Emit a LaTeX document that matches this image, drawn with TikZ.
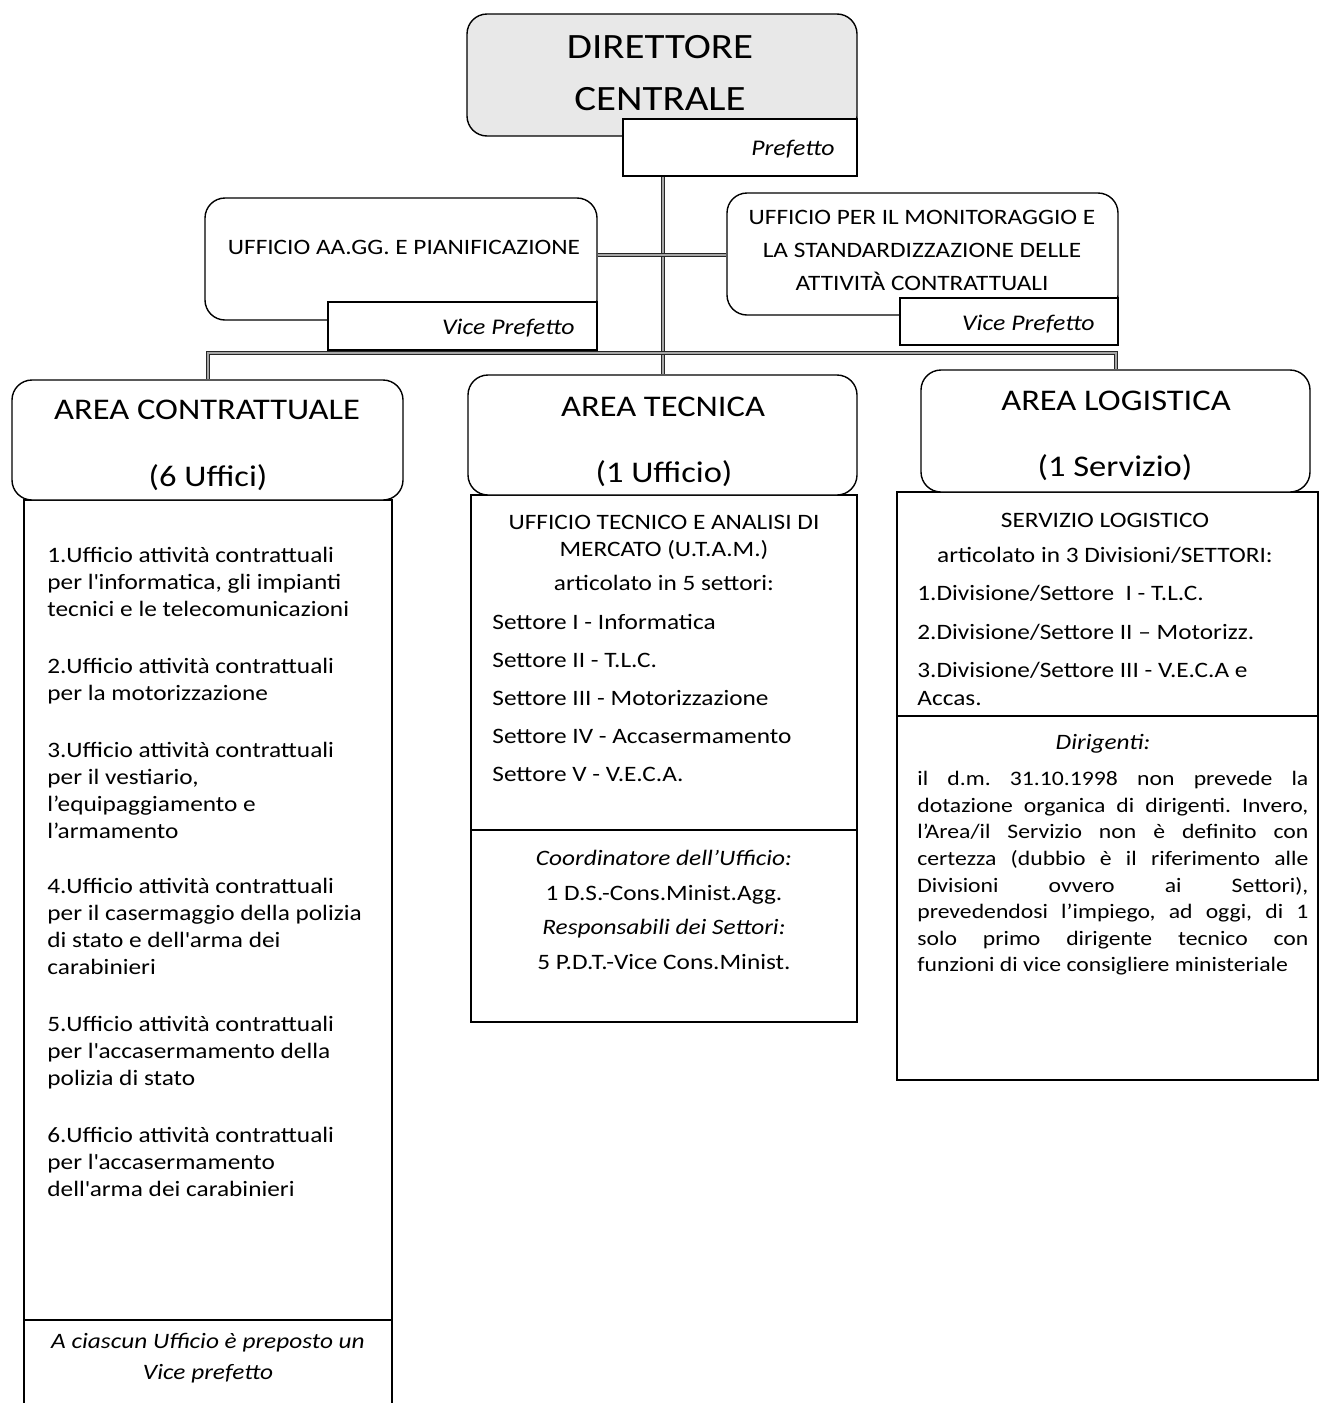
\documentclass[tikz,border=0pt]{standalone}
\usepackage{fontspec}
\setmainfont{Carlito}[FakeStretch=1.15]
\usepackage{tikz}
\usetikzlibrary{fit}
\frenchspacing
\newcommand{\jline}[1]{\makebox[195.5pt][s]{#1}}

\begin{document}
\begin{tikzpicture}[x=0.5pt, y=-0.5pt,
    box/.style={draw, line width=0.7pt, inner sep=0pt},
    rbox/.style={box, rounded corners=10pt},
    bus/.style={draw=black!85, line width=0.5pt, double=black!35, double distance=1pt},
    big/.style={inner sep=0pt, font=\fontsize{17.8}{22}\selectfont},
    head/.style={inner sep=0pt, font=\fontsize{15}{18}\selectfont},
    txt/.style={inner sep=0pt, font=\fontsize{11}{13.5}\selectfont},
    ital/.style={inner sep=0pt, font=\fontsize{11.2}{14}\selectfont\itshape}]
    \useasboundingbox (0,0) rectangle (1320,1403);

    % boxes
    \node[rbox, fill=black!9, fit={(467,14) (857,136)}] (dir) {};
    \node[box, fill=white, fit={(623,119) (857,176)}] (pref) {};
    \node[rbox, fit={(205,198) (597,320)}] (aagg) {};
    \node[box, fill=white, fit={(328,302) (597,350)}] (aaggvp) {};
    \node[rbox, fit={(727,193) (1118,315)}] (mon) {};
    \node[box, fill=white, fit={(900,298) (1118,345)}] (monvp) {};

    \node[box, fit={(24,500) (392,1320)}] (uffici) {};
    \node[box, fit={(24,1320) (392,1420)}] (nota) {};
    \node[rbox, fill=white, fit={(12,380) (403,500)}] (contr) {};
    \node[box, fit={(471,495) (857,830)}] (utam) {};
    \node[box, fit={(471,830) (857,1022)}] (coord) {};
    \node[rbox, fill=white, fit={(468,375) (857,495)}] (tec) {};
    \node[box, fit={(897,492) (1318,716)}] (serv) {};
    \node[box, fit={(897,716) (1318,1080)}] (dirig) {};
    \node[rbox, fill=white, fit={(921,370) (1310,492)}] (logi) {};

    % connectors
    \coordinate (bus) at (662,353);
    \draw[bus] (pref.south -| tec.north) -- (tec.north);
    \draw[bus] ([yshift=2pt]aagg.east) -- ([yshift=2pt]aagg.east -| mon.west);
    \draw[bus] (contr.north) |- (bus) -| (logi.north);

    % texts
    \node[big, anchor=base] (dirt1) at (660,58) {DIRETTORE};
    \node[big, anchor=base] (dirt2) at (660,110) {CENTRALE};
    \node[ital, anchor=base east] (preft) at (835,155) {Prefetto};
    \node[txt, anchor=base] (aaggt) at (404,254) {UFFICIO AA.GG. E PIANIFICAZIONE};
    \node[ital, anchor=base east] (aaggvpt) at (575,334) {Vice Prefetto};
    \node[txt, anchor=north, align=center, font=\fontsize{11}{16.5}\selectfont] (mont) at (922,210)
        {UFFICIO PER IL MONITORAGGIO E\\ LA STANDARDIZZAZIONE DELLE\\ ATTIVITÀ CONTRATTUALI};
    \node[ital, anchor=base east] (monvpt) at (1095,330) {Vice Prefetto};

    \node[head, anchor=base] (contrt1) at (207,419) {AREA CONTRATTUALE};
    \node[head, anchor=base] (contrt2) at (208,486) {(6 Uffici)};
    \node[head, anchor=base] (tect1) at (663,416) {AREA TECNICA};
    \node[head, anchor=base] (tect2) at (664,482) {(1 Ufficio)};
    \node[head, anchor=base] (logit1) at (1116,410) {AREA LOGISTICA};
    \node[head, anchor=base] (logit2) at (1115,476) {(1 Servizio)};

    \node[txt, anchor=north west, align=left] (ufficit) at (47,547) {%
        1.Ufficio attività contrattuali\\ per l\textquotesingle informatica, gli impianti\\ tecnici e le telecomunicazioni\\[15pt]
        2.Ufficio attività contrattuali\\ per la motorizzazione\\[15pt]
        3.Ufficio attività contrattuali\\ per il vestiario,\\ l’equipaggiamento e\\ l’armamento\\[14pt]
        4.Ufficio attività contrattuali\\ per il casermaggio della polizia\\ di stato e dell\textquotesingle arma dei\\ carabinieri\\[15pt]
        5.Ufficio attività contrattuali\\ per l\textquotesingle accasermamento della\\ polizia di stato\\[15pt]
        6.Ufficio attività contrattuali\\ per l\textquotesingle accasermamento\\ dell\textquotesingle arma dei carabinieri};
    \node[ital, anchor=north, align=center, font=\fontsize{11}{15.5}\selectfont\itshape] (notat) at (208,1333)
        {A ciascun Ufficio è preposto un\\ Vice prefetto};

    \node[txt, anchor=north, align=center] (utamt) at (664,515)
        {UFFICIO TECNICO E ANALISI DI\\ MERCATO (U.T.A.M.)\\[3.5pt] articolato in 5 settori:};
    \node[txt, anchor=north west, align=left, font=\fontsize{11}{19}\selectfont] (settt) at (492,614)
        {Settore I - Informatica\\ Settore II - T.L.C.\\ Settore III - Motorizzazione\\ Settore IV - Accasermamento\\ Settore V - V.E.C.A.};
    \node[txt, anchor=north, align=center, font=\fontsize{11}{17.3}\selectfont] (coordt) at (664,850)
        {\textit{Coordinatore dell’Ufficio:}\\ 1 D.S.-Cons.Minist.Agg.\\ \textit{Responsabili dei Settori:}\\ 5 P.D.T.-Vice Cons.Minist.};

    \node[txt, anchor=north, align=center, font=\fontsize{11}{17.5}\selectfont] (servt) at (1105,513)
        {SERVIZIO LOGISTICO\\ articolato in 3 Divisioni/SETTORI:};
    \node[txt, anchor=north west, align=left, font=\fontsize{11}{19.2}\selectfont] (divt) at (917,585)
        {1.Divisione/Settore\ \ I - T.L.C.\\ 2.Divisione/Settore II – Motorizz.\\ 3.Divisione/Settore III - V.E.C.A e\\[-5pt] Accas.};
    \node[ital, anchor=base, font=\fontsize{11}{13.5}\selectfont\itshape] (dirigt) at (1103,749) {Dirigenti:};
    \node[txt, anchor=north west, align=left, font=\fontsize{10.3}{13.3}\selectfont] (parat) at (917,771)
        {\jline{il d.m. 31.10.1998 non prevede la}\\ \jline{dotazione organica di dirigenti. Invero,}\\
         \jline{l’Area/il Servizio non è definito con}\\ \jline{certezza (dubbio è il riferimento alle}\\
         \jline{Divisioni ovvero ai Settori),}\\ \jline{prevedendosi l’impiego, ad oggi, di 1}\\
         \jline{solo primo dirigente tecnico con}\\ funzioni di vice consigliere ministeriale};
\end{tikzpicture}
\end{document}
